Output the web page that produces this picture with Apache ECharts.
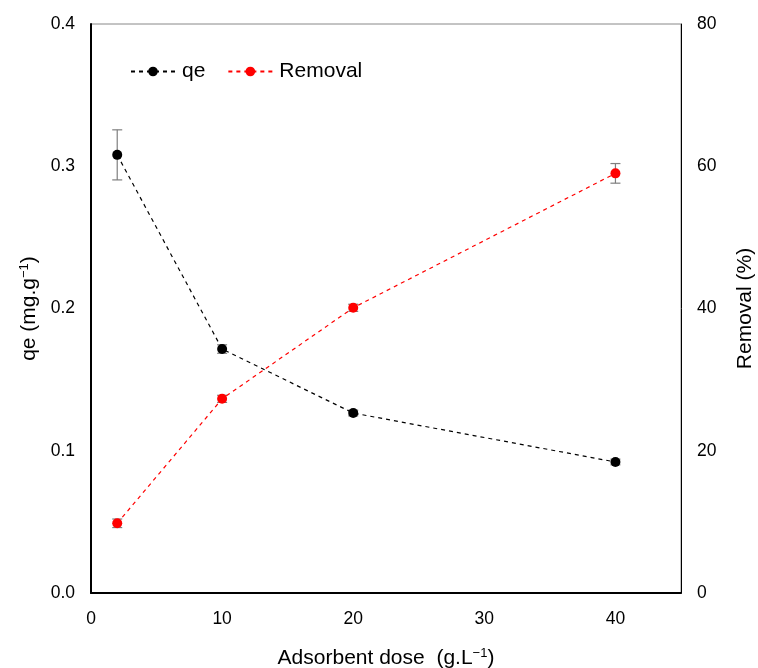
<!DOCTYPE html>
<html><head><meta charset="utf-8">
<script src="https://cdn.jsdelivr.net/npm/echarts@6/dist/echarts.min.js"></script>
<style>html,body{margin:0;padding:0;background:#fff}#c{width:758px;height:668px}</style>
</head><body><div id="c"></div>
<script>
const doses = [2, 10, 20, 40];
const qeValues = [0.308, 0.1715, 0.1265, 0.0921];
const qeErrors = [0.0176, 0.003, 0.002, 0.002];
const removalValues = [9.8, 27.3, 40.1, 59.0];
const removalErrors = [0.6, 0.5, 0.5, 1.38];
const xTicks = [0, 10, 20, 30, 40];
const qeTicks = [0, 0.1, 0.2, 0.3, 0.4];
const removalTicks = [0, 20, 40, 60, 80];

const chart = echarts.init(document.getElementById('c'));
const font = 'Liberation Sans, Arial, sans-serif';

function errSeries(vals, errs, yIdx, name) {
  return {
    type: 'custom', name: name + '_err', yAxisIndex: yIdx, z: 1, silent: true,
    data: doses.map((d, i) => [d, vals[i] - errs[i], vals[i] + errs[i]]),
    renderItem: function (params, api) {
      const lo = api.coord([api.value(0), api.value(1)]);
      const hi = api.coord([api.value(0), api.value(2)]);
      const w = 5;
      const st = { stroke: '#7f7f7f', lineWidth: 1.2 };
      return { type: 'group', children: [
        { type: 'line', shape: { x1: lo[0], y1: lo[1], x2: hi[0], y2: hi[1] }, style: st },
        { type: 'line', shape: { x1: lo[0] - w, y1: lo[1], x2: lo[0] + w, y2: lo[1] }, style: st },
        { type: 'line', shape: { x1: hi[0] - w, y1: hi[1], x2: hi[0] + w, y2: hi[1] }, style: st }
      ]};
    }
  };
}

const supRich = { s: { fontSize: 13, verticalAlign: 'top', padding: [0, 0, 10, 0], color: '#000' } };

chart.setOption({
  backgroundColor: '#fff',
  animation: false,
  textStyle: { fontFamily: font },
  grid: { left: 91, right: 77, top: 24, bottom: 75, show: true, borderColor: '#888', borderWidth: 1, containLabel: false, outerBoundsMode: 'none' },
  legend: {
    left: 125, top: 56, itemWidth: 44, itemHeight: 12, itemGap: 22,
    textStyle: { fontSize: 21, color: '#000', fontFamily: font, padding: [0, 0, 0, 2] },
    itemStyle: { borderWidth: 0 },
    data: ['qe', 'Removal']
  },
  xAxis: {
    type: 'value', min: 0, max: 45, interval: 10,
    name: 'Adsorbent dose  (g.L{s|\u22121})', nameLocation: 'middle', nameGap: 54,
    nameTextStyle: { fontSize: 21, color: '#000', fontFamily: font, rich: supRich },
    axisLine: { lineStyle: { color: '#000', width: 2 } },
    axisTick: { show: false }, splitLine: { show: false },
    axisLabel: { fontSize: 17.5, color: '#000', margin: 17, customValues: xTicks, formatter: v => (v > 40 ? '' : v) }
  },
  yAxis: [{
    type: 'value', min: 0, max: 0.4, interval: 0.1,
    name: 'qe (mg.g{s|\u22121})', nameLocation: 'middle', nameGap: 50, nameRotate: 90,
    nameTextStyle: { fontSize: 21, color: '#000', fontFamily: font, rich: supRich },
    axisLine: { show: true, lineStyle: { color: '#000', width: 2 } },
    axisTick: { show: false }, splitLine: { show: false },
    axisLabel: { fontSize: 17.5, color: '#000', margin: 16, formatter: v => v.toFixed(1) }
  }, {
    type: 'value', min: 0, max: 80, interval: 20, position: 'right',
    name: 'Removal (%)', nameLocation: 'middle', nameGap: 54, nameRotate: 90,
    nameTextStyle: { fontSize: 21, color: '#000', fontFamily: font },
    axisLine: { show: true, lineStyle: { color: '#000', width: 1 } },
    axisTick: { show: false }, splitLine: { show: false },
    axisLabel: { fontSize: 17.5, color: '#000', margin: 16 }
  }],
  series: [
    errSeries(qeValues, qeErrors, 0, 'qe'),
    errSeries(removalValues, removalErrors, 1, 'Removal'),
    {
      name: 'qe', type: 'line', yAxisIndex: 0, z: 3,
      data: doses.map((d, i) => [d, qeValues[i]]),
      symbol: 'circle', symbolSize: 10,
      lineStyle: { color: '#000', type: [4, 4], width: 1.2 },
      itemStyle: { color: '#000' }
    },
    {
      name: 'Removal', type: 'line', yAxisIndex: 1, z: 3,
      data: doses.map((d, i) => [d, removalValues[i]]),
      symbol: 'circle', symbolSize: 10,
      lineStyle: { color: '#ff0000', type: [4, 4], width: 1.2 },
      itemStyle: { color: '#ff0000' }
    }
  ]
});
</script></body></html>
